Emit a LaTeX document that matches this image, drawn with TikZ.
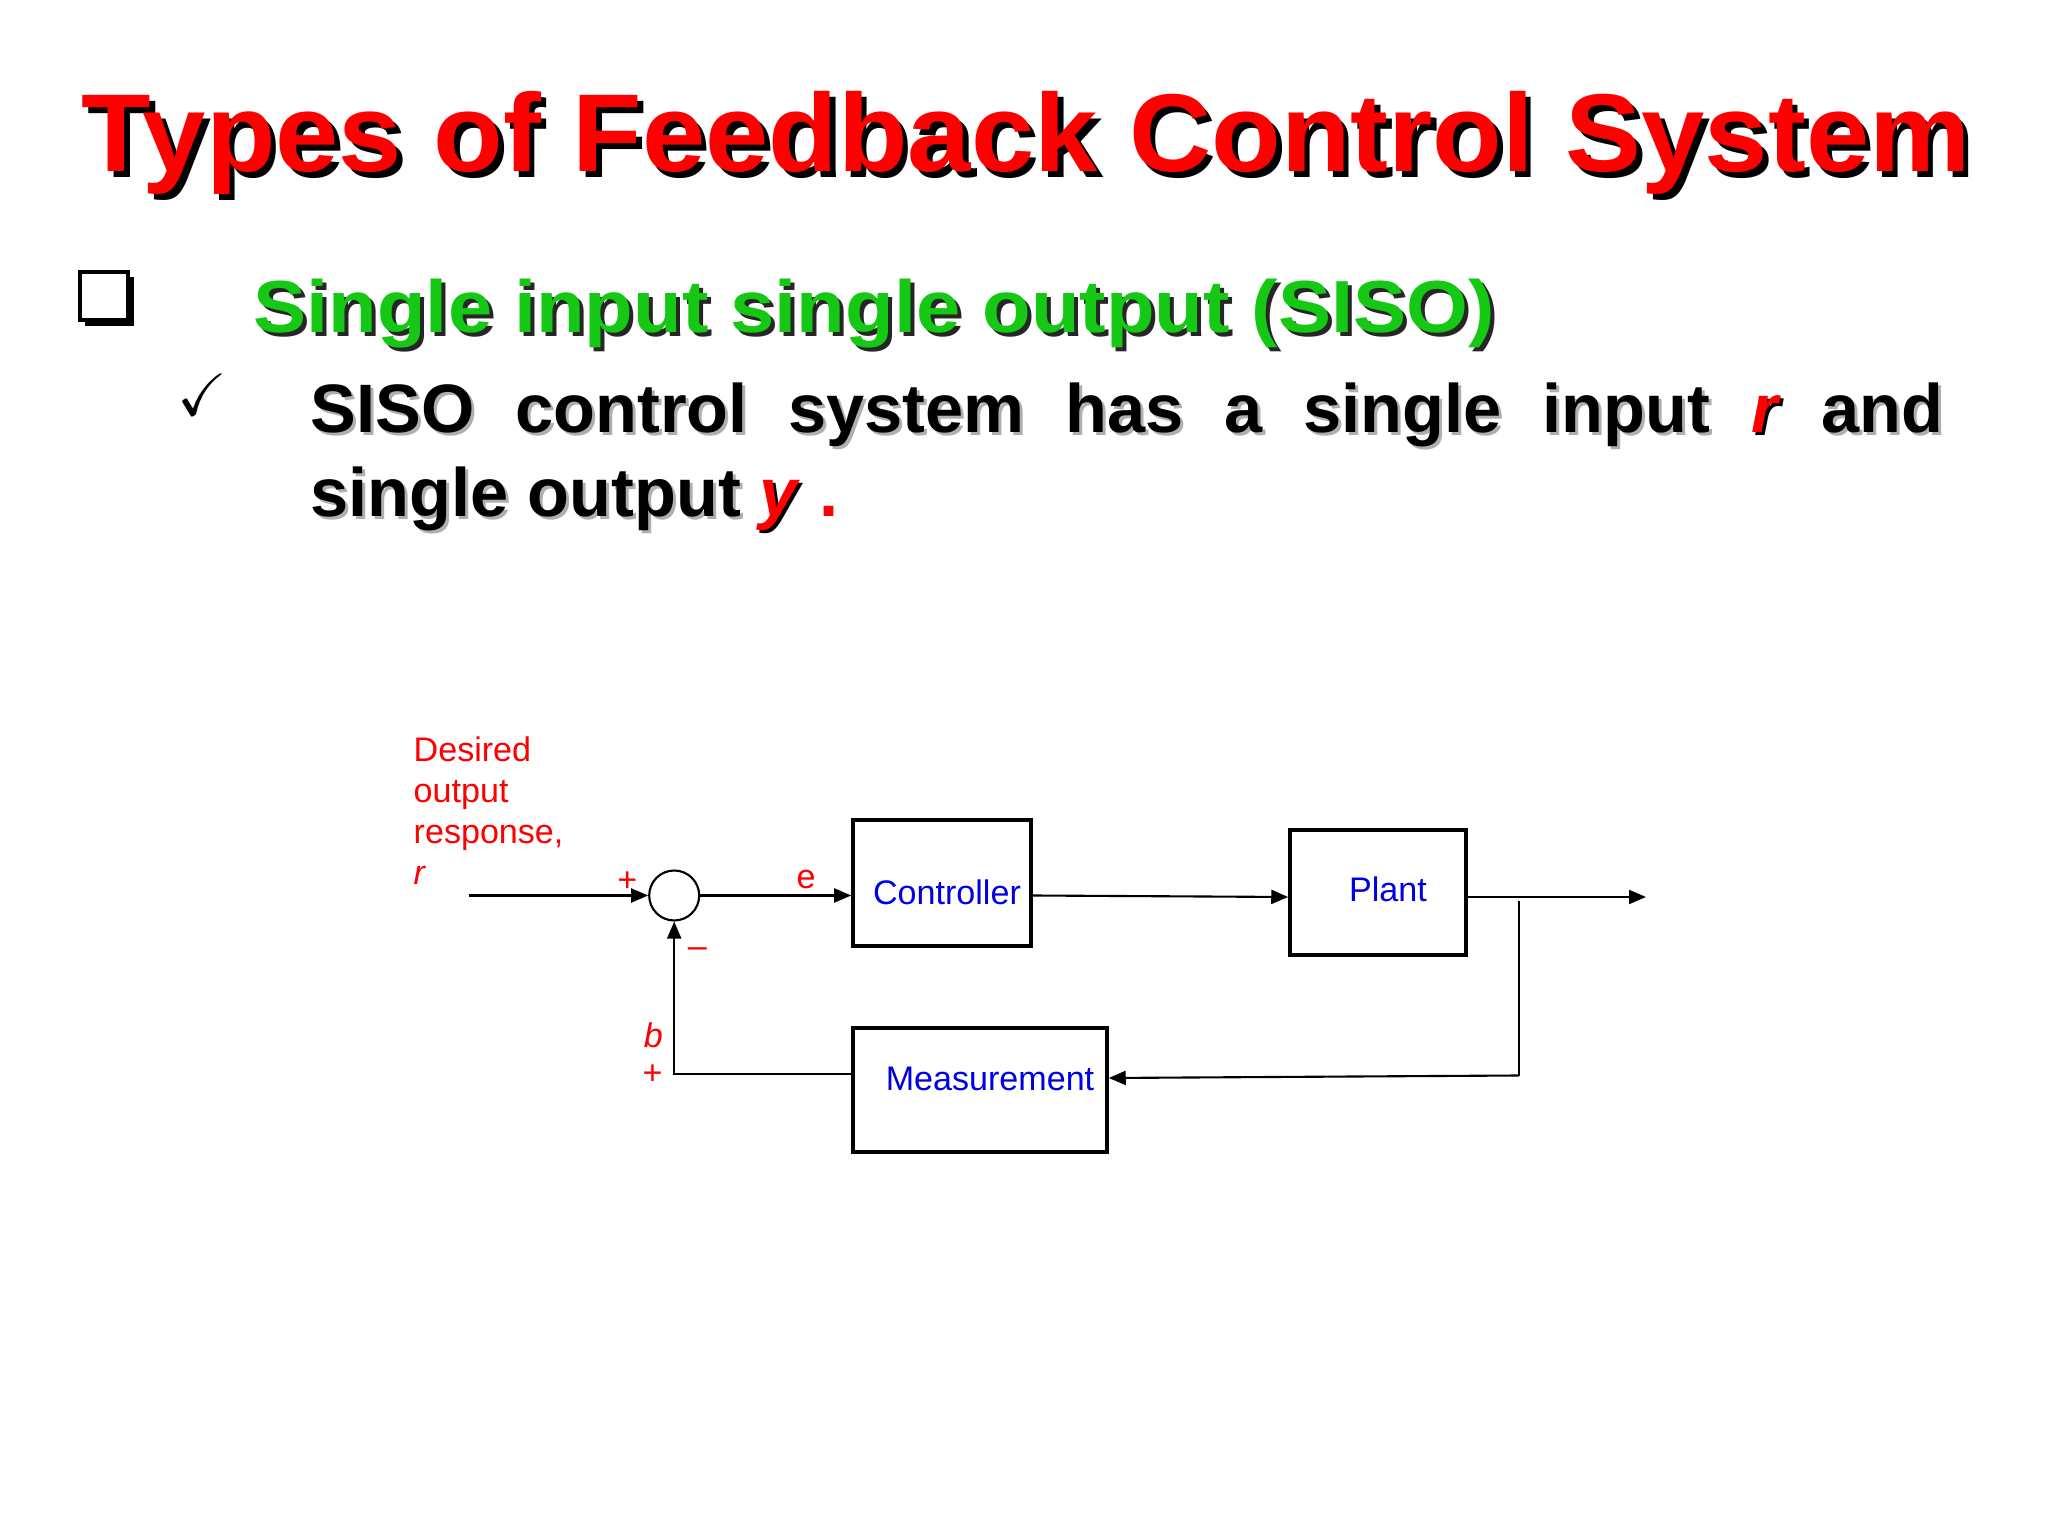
\documentclass[tikz,border=0pt]{standalone}
\usepackage{amssymb}
\usepackage{fontspec}
\setmainfont{Liberation Sans}
\usepackage{graphicx}
\usetikzlibrary{arrows.meta,positioning,calc}
\definecolor{slidered}{RGB}{255,0,0}
\definecolor{slidegreen}{RGB}{20,200,20}
\definecolor{slideblue}{RGB}{0,0,230}
\definecolor{shadowgray}{RGB}{175,175,175}
\newcommand{\titlefont}{\fontsize{31.5}{36}\selectfont\bfseries}
\newcommand{\subfont}{\fontsize{21}{25}\selectfont\bfseries}
\newcommand{\bodyfont}{\fontsize{19.5}{23}\selectfont\bfseries}
\newcommand{\diagfont}{\fontsize{9.7}{11.6}\selectfont}

\begin{document}
\begin{tikzpicture}[
    blockbox/.style={draw, line width=1pt, inner sep=0pt},
    blocklabel/.style={font=\diagfont, text=slideblue, inner sep=0pt},
    sumnode/.style={draw, circle, line width=0.6pt, minimum size=0.50cm, inner sep=0pt},
    signal/.style={line width=0.6pt, -{Triangle[length=1.7mm,width=1.4mm]}},
    wire/.style={line width=0.6pt},
    sign/.style={font=\diagfont, text=slidered, inner sep=0pt},
    plain/.style={anchor=base west, inner sep=0pt}
]
    % Page
    \useasboundingbox (0,0) rectangle (20.48,-15.36);
    \fill[white] (0,0) rectangle (20.48,-15.36);

    % Title
    \node[plain, font=\titlefont, text=black] (title-shadow) at (0.865,-1.775)
        {\scalebox{1.028}[1]{Types of Feedback Control System}};
    \node[plain, font=\titlefont, text=slidered] (title) at (0.81,-1.72)
        {\scalebox{1.028}[1]{Types of Feedback Control System}};

    % Bullet box
    \fill[black] (0.85,-2.77) rectangle (1.34,-3.26);
    \filldraw[fill=white, draw=black, line width=0.9pt] (0.80,-2.72) rectangle (1.28,-3.20);

    % Subtitle
    \node[plain, font=\subfont, text=black!85] (sub-shadow) at (2.57,-3.37)
        {\scalebox{1.077}[1]{Single input single output (SISO)}};
    \node[plain, font=\subfont, text=slidegreen] (sub) at (2.53,-3.33)
        {\scalebox{1.077}[1]{Single input single output (SISO)}};

    % Check mark
    \node[font=\fontsize{17}{20}\selectfont, inner sep=0pt] (tick) at (2.02,-3.95) {$\checkmark$};

    % Body text
    \node[plain, font=\bodyfont, text=shadowgray] (line1-shadow) at (3.13,-4.36)
        {\makebox[16.33cm][s]{SISO control system has a single input \textcolor{black}{\textit{r}} and}};
    \node[plain, font=\bodyfont] (line1) at (3.10,-4.33)
        {\makebox[16.33cm][s]{SISO control system has a single input \textcolor{slidered}{\textit{r}} and}};
    \node[plain, font=\bodyfont, text=shadowgray] (line2-shadow) at (3.13,-5.20)
        {single output \textcolor{black}{\textit{y}} \phantom{.}};
    \node[plain, font=\bodyfont] (line2) at (3.10,-5.17)
        {single output \textcolor{slidered}{\textit{y} .}};

    % Input label
    \node[font=\diagfont, text=slidered, align=left, anchor=north west, inner sep=0pt] (r-label) at (4.13,-7.365)
        {Desired\\output\\response,\\\textit{r}};

    % Blocks
    \node[sumnode] (sum) at (6.742,-8.955) {};
    \node[blockbox, minimum width=1.78cm, minimum height=1.26cm] (ctrl) at (9.42,-8.83) {};
    \node[blockbox, minimum width=1.76cm, minimum height=1.25cm] (plant) at (13.78,-8.925) {};
    \node[blockbox, minimum width=2.54cm, minimum height=1.24cm] (meas) at (9.80,-10.90) {};
    \node[blocklabel] (ctrl-text) at (9.47,-8.92) {Controller};
    \node[blocklabel] (plant-text) at (13.88,-8.89) {Plant};
    \node[blocklabel] (meas-text) at (9.90,-10.79) {Measurement};

    % Signals
    \coordinate (r-start) at (4.69,-8.955);
    \coordinate (y-end) at (16.46,-8.97);
    \coordinate (tap-top) at (15.19,-9.01);
    \coordinate (tap-bot) at (15.19,-10.755);
    \draw[signal] (r-start) -- (sum.west);
    \draw[signal] (sum.east) -- (sum.east -| ctrl.west);
    \draw[signal] (ctrl.east |- sum.east) -- (plant.west |- y-end);
    \draw[signal] (plant.east |- y-end) -- (y-end);
    \draw[wire] (tap-top) -- (tap-bot);
    \draw[signal] (tap-bot) -- (meas.east |- 0,-10.78);
    \draw[signal] (meas.west |- 0,-10.74) -| (sum.south);

    % Signs
    \node[sign] (plus-r) at (6.273,-8.817) {+};
    \node[sign] (minus-b) at (6.973,-9.523) {–};
    \node[sign] (e-label) at (8.06,-8.793) {e};
    \node[sign] (b-label) at (6.533,-10.35) {\textit{b}};
    \node[sign] (plus-b) at (6.527,-10.75) {+};
\end{tikzpicture}
\end{document}
